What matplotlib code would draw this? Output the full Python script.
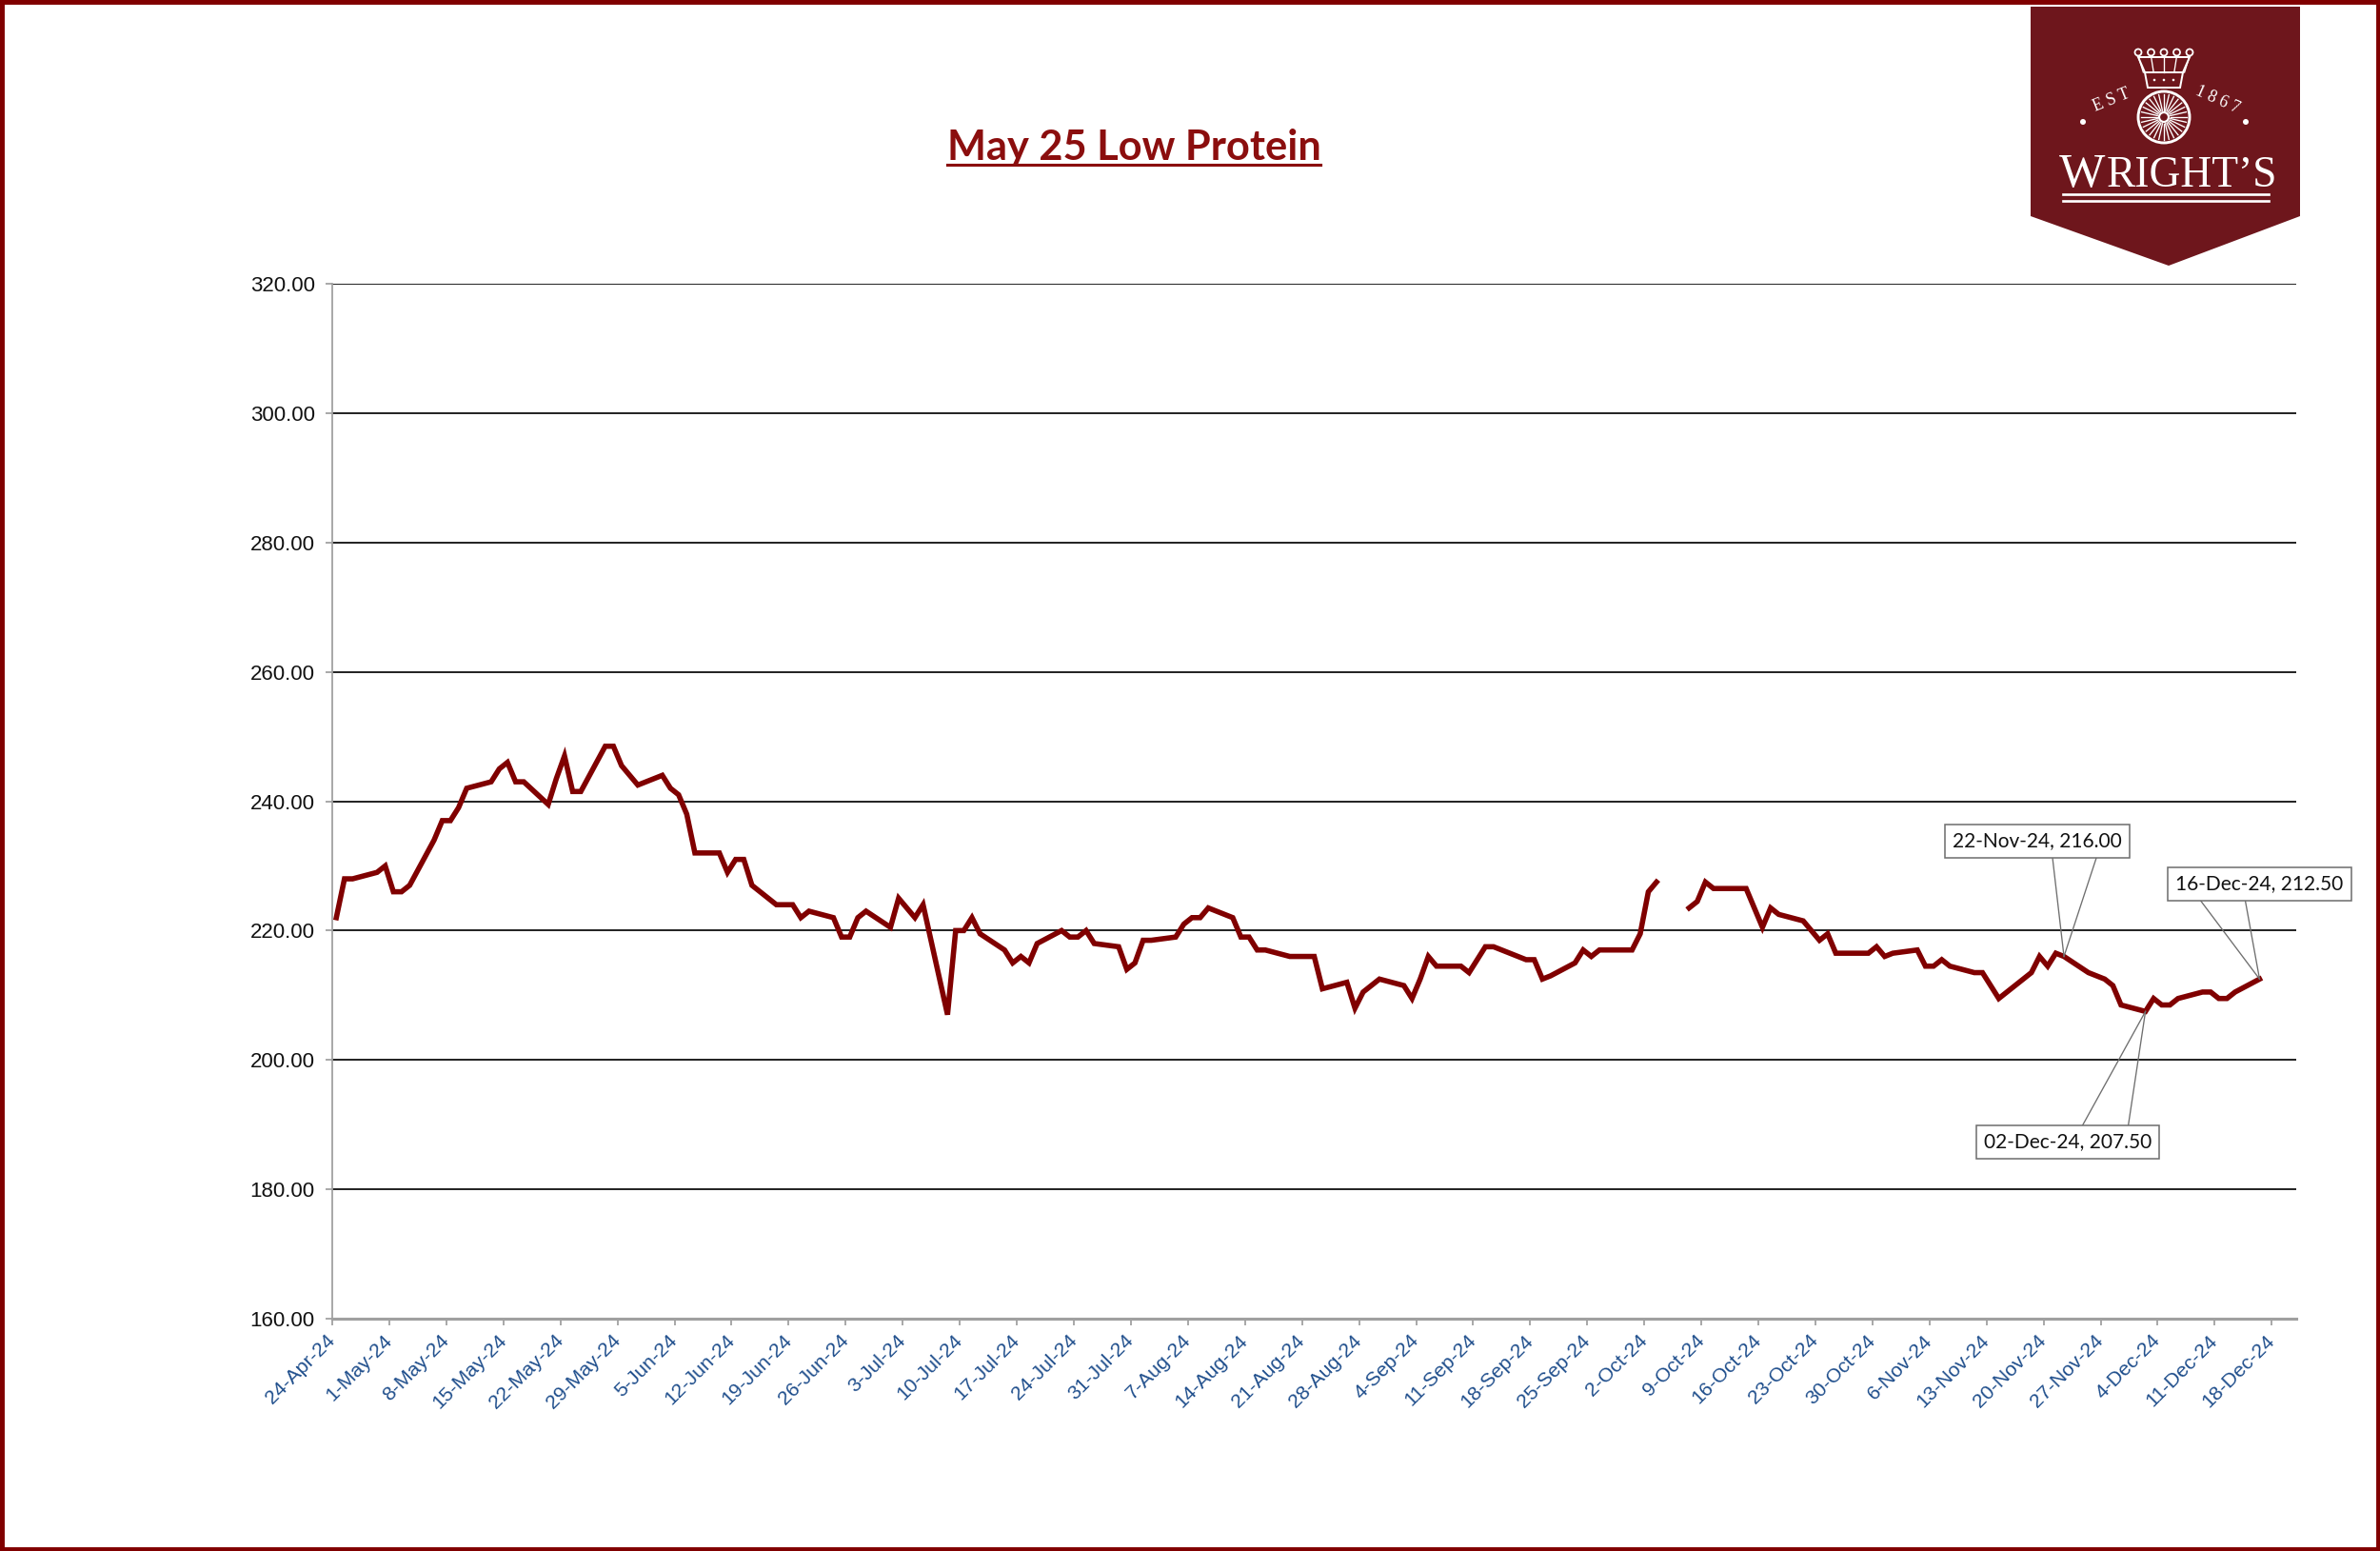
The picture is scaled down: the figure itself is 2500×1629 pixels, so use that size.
import matplotlib
matplotlib.use("Agg")
import matplotlib.pyplot as plt
import matplotlib.dates as mdates
import numpy as np
import pandas as pd
from matplotlib.lines import Line2D
from matplotlib.patches import Rectangle, Polygon, Circle
from matplotlib.ticker import FormatStrFormatter
from matplotlib.transforms import IdentityTransform

W, H, DPI = 2500, 1629, 160

# settlement prices by month (weekday days of month, value)
apr_days = [24, 25, 26, 29, 30]
apr_prices = [222, 228, 228, 229, 230]
may_days = [1, 2, 3, 6, 7, 8, 9, 10, 13, 14, 15, 16, 17, 20, 21, 22, 23, 24, 27, 28, 29, 30, 31]
may_prices = [226, 226, 227, 234, 237, 237, 239, 242, 243, 245, 246, 243, 243,
              239.5, 243.5, 247, 241.5, 241.5, 248.5, 248.5, 245.5, 244, 242.5]
jun_days = [3, 4, 5, 6, 7, 10, 11, 12, 13, 14, 17, 18, 19, 20, 21, 24, 25, 26, 27, 28]
jun_prices = [244, 242, 241, 238, 232, 232, 229, 231, 231, 227, 224, 224, 224,
              222, 223, 222, 219, 219, 222, 223]
jul_days = [1, 2, 3, 4, 5, 8, 9, 10, 11, 12, 15, 16, 17, 18, 19, 22, 23, 24, 25, 26, 29, 30, 31]
jul_prices = [220.5, 225, 223.5, 222, 224, 207, 220, 220, 222, 219.5, 217, 215, 216,
              215, 218, 220, 219, 219, 220, 218, 217.5, 214, 215]
aug_days = [1, 2, 5, 6, 7, 8, 9, 12, 13, 14, 15, 16, 19, 20, 21, 22, 23, 26, 27, 28, 29, 30]
aug_prices = [218.5, 218.5, 219, 221, 222, 222, 223.5, 222, 219, 219, 217, 217,
              216, 216, 216, 216, 211, 212, 208, 210.5, 211.5, 212.5]
sep_days = [2, 3, 4, 5, 6, 9, 10, 11, 12, 13, 16, 17, 18, 19, 20, 23, 24, 25, 26, 27, 30]
sep_prices = [211.5, 209.5, 212.5, 216, 214.5, 214.5, 213.5, 215.5, 217.5, 217.5,
              216, 215.5, 215.5, 212.5, 213, 215, 217, 216, 217, 217, 217]
oct_days = [1, 2, 3, 4, 7, 8, 9, 10, 11, 14, 15, 16, 17, 18, 21, 22, 23, 24, 25, 28, 29, 30, 31]
oct_prices = [219.5, 226, 227.5, np.nan, 223.5, 224.5, 227.5, 226.5, 226.5, 226.5,
              223.5, 220.5, 223.5, 222.5, 221.5, 220, 218.5, 219.5, 216.5, 216.5,
              216.5, 217.5, 216]
nov_days = [1, 4, 5, 6, 7, 8, 11, 12, 13, 14, 15, 18, 19, 20, 21, 22, 25, 26, 27, 28, 29]
nov_prices = [216.5, 217, 214.5, 214.5, 215.5, 214.5, 213.5, 213.5, 211.5, 209.5,
              210.5, 213.5, 216, 214.5, 216.5, 216, 213.5, 213, 212.5, 211.5, 208.5]
dec_days = [2, 3, 4, 5, 6, 9, 10, 11, 12, 13, 16]
dec_prices = [207.5, 209.5, 208.5, 208.5, 209.5, 210.5, 210.5, 209.5, 209.5, 210.5, 212.5]

months = [(4, apr_days, apr_prices), (5, may_days, may_prices), (6, jun_days, jun_prices),
          (7, jul_days, jul_prices), (8, aug_days, aug_prices), (9, sep_days, sep_prices),
          (10, oct_days, oct_prices), (11, nov_days, nov_prices), (12, dec_days, dec_prices)]

callout_dates = ["2024-11-22", "2024-12-02", "2024-12-16"]
y_ticks = [160, 180, 200, 220, 240, 260, 280, 300, 320]
x_first, x_last, x_end = "2024-04-24", "2024-12-18", "2024-12-21"

TITLE = "May 25 Low Protein"
LINE = "#800000"
TITLE_RED = "#8B0E0E"
LOGO_RED = "#6E161C"
LABEL_BLUE = "#1F4E8C"
AXIS_GREY = "#A0A0A0"

# box centre offset from the point (px, y up) and where the two leader feet sit
CALLOUT_LAYOUT = {
    "2024-11-22": dict(box=(-28, 121), feet=(16, 62)),
    "2024-12-02": dict(box=(-82, -137), feet=(16, 64)),
    "2024-12-16": dict(box=(0, 100), feet=(-62, -15)),
}

dates, prices = [], []
for m, days, vals in months:
    dates += [pd.Timestamp(2024, m, d) for d in days]
    prices += vals
series = pd.Series(prices, index=pd.DatetimeIndex(dates))
xs = mdates.date2num(series.index.to_pydatetime()) + 0.5  # Excel centres points in the day slot

fig = plt.figure(figsize=(W / DPI, H / DPI), dpi=DPI, facecolor="white")
ax = fig.add_axes([349 / W, 1 - 1385 / H, (2412 - 349) / W, (1385 - 298) / H])

ax.plot(xs, series.values, color=LINE, linewidth=2.5, solid_joinstyle="miter", zorder=3)

ax.set_ylim(y_ticks[0], y_ticks[-1])
ax.set_yticks(y_ticks)
ax.yaxis.set_major_formatter(FormatStrFormatter("%.2f"))
ax.set_xlim(mdates.date2num(pd.Timestamp(x_first)), mdates.date2num(pd.Timestamp(x_end)))
tick_dates = pd.date_range(x_first, x_last, freq="7D")
ax.set_xticks(mdates.date2num(tick_dates.to_pydatetime()))
ax.set_xticklabels([f"{d.day}-{d:%b-%y}" for d in tick_dates], rotation=45,
                   ha="right", va="center", rotation_mode="anchor",
                   family="Liberation Sans", fontsize=9.5, color=LABEL_BLUE)
for lab in ax.get_yticklabels():
    lab.set_family("Liberation Sans")
    lab.set_fontsize(10)
    lab.set_color("#111111")

ax.grid(axis="y", color="#1a1a1a", linewidth=0.85)
ax.set_axisbelow(True)
for side in ("top", "right"):
    ax.spines[side].set_visible(False)
ax.spines["left"].set_color(AXIS_GREY)
ax.spines["left"].set_linewidth(0.8)
ax.spines["bottom"].set_color(AXIS_GREY)
ax.spines["bottom"].set_linewidth(1.4)
ax.tick_params(axis="y", length=3.2, width=0.8, color=AXIS_GREY, pad=5)
ax.tick_params(axis="x", length=3, width=0.8, color=AXIS_GREY, pad=6)

# title with underline
base_y = (1 - 168 / H) * H
title = fig.text(1191 / W, base_y / H, TITLE, ha="center", va="baseline",
                 family="Lato", fontweight="bold", fontsize=19.5, color=TITLE_RED)
renderer = fig.canvas.get_renderer()
bb = title.get_window_extent(renderer)
fig.add_artist(Line2D([bb.x0, bb.x1], [base_y - 5, base_y - 5], color=TITLE_RED,
                      linewidth=1.4, transform=IdentityTransform()))

# data callouts, Excel style wedges
ident = IdentityTransform()
for d in callout_dates:
    ts = pd.Timestamp(d)
    val = series[ts]
    px, py = ax.transData.transform((mdates.date2num(ts) + 0.5, val))
    lay = CALLOUT_LAYOUT[d]
    cx, cy = px + lay["box"][0], py + lay["box"][1]
    txt = fig.text(cx / W, cy / H, f"{ts:%d-%b-%y}, {val:.2f}", ha="center", va="center",
                   family="Lato", fontsize=9.4, color="#111111", zorder=7)
    tw = txt.get_window_extent(renderer).width
    bw, bh = tw + 16, 35
    fig.add_artist(Rectangle((cx - bw / 2, cy - bh / 2), bw, bh, facecolor="white",
                             edgecolor="#6f6f6f", linewidth=0.7, transform=ident, zorder=6))
    edge_y = cy - bh / 2 if lay["box"][1] > 0 else cy + bh / 2
    for fx in lay["feet"]:
        fig.add_artist(Line2D([cx + fx, px], [edge_y, py], color="#6f6f6f",
                              linewidth=0.6, transform=ident, zorder=5))

# logo, drawn in top-left pixel coordinates
lg = fig.add_axes([2120 / W, 1 - 290 / H, 310 / W, 290 / H])
lg.set_xlim(2120, 2430)
lg.set_ylim(290, 0)
lg.axis("off")
lg.add_patch(Polygon([(2133, 7), (2416, 7), (2416, 227), (2278, 279), (2133, 227)],
                     closed=True, facecolor=LOGO_RED, edgecolor="none"))
lg.text(2163, 196, "W", family="Liberation Serif", fontsize=23, color="white",
        ha="left", va="baseline")
lg.text(2213, 196, "RIGHT\u2019S", family="Liberation Serif", fontsize=20.5, color="white",
        ha="left", va="baseline")
for yy in (204, 211):
    lg.plot([2167, 2383], [yy, yy], color="white", linewidth=1.2)
lg.add_patch(Circle((2273, 123), 27, fill=False, edgecolor="white", linewidth=1.3))
lg.add_patch(Circle((2273, 123), 5, fill=False, edgecolor="white", linewidth=1.0))
for a in np.linspace(0, 2 * np.pi, 28, endpoint=False):
    lg.plot([2273 + 7 * np.cos(a), 2273 + 24 * np.cos(a)],
            [123 + 7 * np.sin(a), 123 + 24 * np.sin(a)], color="white", linewidth=0.6)
lg.add_patch(Polygon([(2256, 92), (2290, 92), (2293, 76), (2253, 76)], closed=True,
                     fill=False, edgecolor="white", linewidth=0.9))
lg.add_patch(Polygon([(2253, 76), (2246, 60), (2300, 60), (2293, 76)], closed=True,
                     fill=False, edgecolor="white", linewidth=0.9))
for cxp in (2246, 2259.5, 2273, 2286.5, 2300):
    lg.add_patch(Circle((cxp, 55), 3.5, fill=False, edgecolor="white", linewidth=0.8))
    lg.plot([cxp, cxp + (2273 - cxp) * 0.2], [59, 76], color="white", linewidth=0.6)
for dx in (-10, 0, 10):
    lg.add_patch(Circle((2273 + dx, 84), 1.3, facecolor="white", edgecolor="none"))
lg.text(2218, 105, "E S T", family="Liberation Serif", fontsize=8, color="white",
        ha="center", va="center", rotation=22)
lg.text(2329, 105, "1 8 6 7", family="Liberation Serif", fontsize=8, color="white",
        ha="center", va="center", rotation=-24)
lg.add_patch(Circle((2188, 128), 3, facecolor="white", edgecolor="none"))
lg.add_patch(Circle((2359, 128), 3, facecolor="white", edgecolor="none"))

# frame round the whole figure
fig.add_artist(Rectangle((0, 0), 1, 1, transform=fig.transFigure, fill=False,
                         edgecolor="#800000", linewidth=4, clip_on=False))

fig.savefig("out.png", dpi=DPI, facecolor="white")
